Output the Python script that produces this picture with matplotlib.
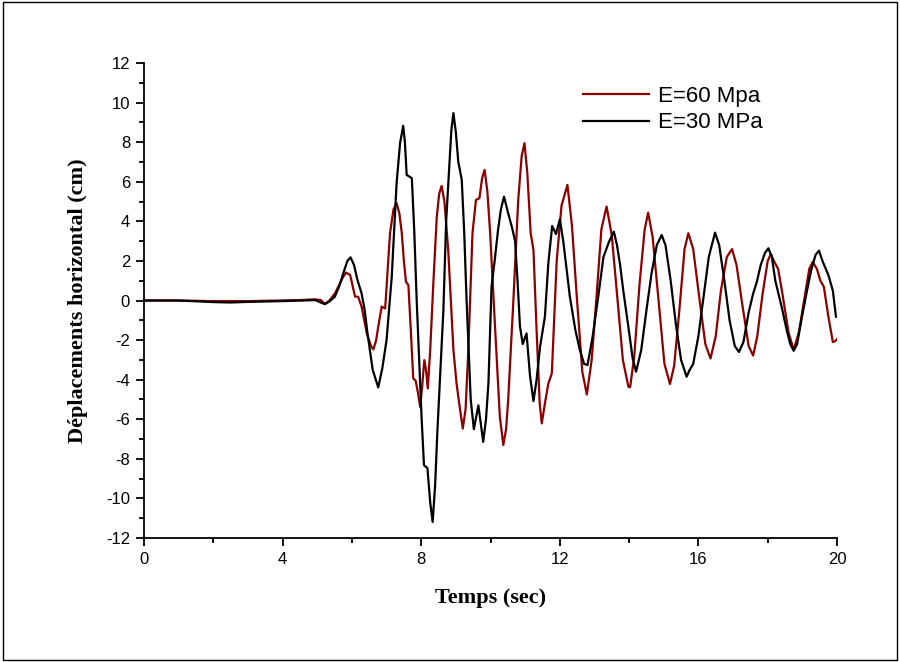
import matplotlib
matplotlib.use("Agg")
import matplotlib.pyplot as plt
from matplotlib.patches import Rectangle
from matplotlib.ticker import MultipleLocator

plt.rcParams["axes.unicode_minus"] = False

# E = 60 MPa (red)
t_60 = [0, 1.0, 2.0, 3.0, 4.0, 4.5, 4.9, 5.1, 5.22, 5.35, 5.51, 5.65, 5.75, 5.83, 5.95,
        6.05, 6.09, 6.18, 6.28, 6.43, 6.55, 6.62, 6.7, 6.76, 6.86, 6.96, 7.03, 7.1, 7.2,
        7.29, 7.37, 7.44, 7.5, 7.56, 7.63, 7.7, 7.77, 7.84, 7.9, 7.97, 8.03, 8.09, 8.14,
        8.19, 8.26, 8.35, 8.45, 8.52, 8.59, 8.67, 8.78, 8.93, 9.02, 9.12, 9.2, 9.28, 9.36,
        9.48, 9.58, 9.68, 9.76, 9.83, 9.91, 9.99, 10.13, 10.27, 10.37, 10.45, 10.51, 10.66,
        10.8, 10.9, 10.98, 11.06, 11.16, 11.24, 11.33, 11.42, 11.48, 11.57, 11.67, 11.77,
        11.91, 12.05, 12.22, 12.35, 12.49, 12.65, 12.78, 12.92, 13.06, 13.2, 13.35, 13.5,
        13.64, 13.82, 13.98, 14.03, 14.15, 14.3, 14.45, 14.55, 14.68, 14.85, 15.02, 15.18,
        15.3, 15.45, 15.6, 15.71, 15.85, 16.0, 16.2, 16.35, 16.5, 16.65, 16.82, 16.97, 17.1,
        17.25, 17.45, 17.58, 17.7, 17.85, 18.0, 18.09, 18.18, 18.3, 18.42, 18.6, 18.75,
        18.9, 19.05, 19.2, 19.3, 19.42, 19.52, 19.62, 19.75, 19.88, 19.95, 20.0]
d_60 = [0, 0.0, -0.03, -0.03, 0.0, 0.02, 0.06, 0.03, -0.18, 0.0, 0.36, 0.85, 1.2, 1.41, 1.29,
        0.5, 0.2, 0.19, -0.31, -1.66, -2.3, -2.47, -2.0, -1.32, -0.31, -0.4, 1.5, 3.4, 4.6,
        4.92, 4.4, 3.4, 2.0, 0.95, 0.78, -1.5, -3.94, -4.05, -4.6, -5.37, -4.3, -3.01, -3.5,
        -4.44, -2.5, 0.87, 4.24, 5.4, 5.79, 5.0, 2.55, -2.5, -4.19, -5.5, -6.47, -5.5, -2.5,
        3.4, 5.08, 5.17, 6.2, 6.6, 5.5, 3.4, -1.3, -5.88, -7.3, -6.5, -5.03, 0.0,
        5.08, 7.3, 7.95, 6.5, 3.4, 2.55, -1.5, -5.2, -6.21, -5.2, -4.19, -3.68,
        2.0, 4.8, 5.84, 3.8, 0.2, -3.6, -4.75, -3.0, 0.2, 3.6, 4.75, 3.3,
        0.53, -3.0, -4.36, -4.38, -2.8, 0.8, 3.6, 4.44, 3.2, 0.0, -3.2, -4.22,
        -3.3, -0.5, 2.6, 3.4, 2.6, 0.5, -2.2, -2.93, -1.8, 0.5, 2.2, 2.6, 1.8,
        0.0, -2.3, -2.78, -1.8, 0.3, 2.0, 2.35, 2.0, 1.6, 0.4, -1.6, -2.5,
        -1.6, 0.0, 1.6, 1.95, 1.6, 1.0, 0.7, -0.8, -2.1, -2.05, -1.95]

# E = 30 MPa (black)
t_30 = [0, 1.0, 2.0, 2.5, 3.0, 4.0, 4.6, 4.95, 5.1, 5.22, 5.35, 5.51, 5.63, 5.75, 5.87, 5.96,
        6.06, 6.16, 6.28, 6.37, 6.45, 6.6, 6.76, 6.88, 7.0, 7.15, 7.29, 7.39, 7.48, 7.53,
        7.58, 7.73, 7.8, 7.87, 7.94, 8.01, 8.08, 8.18, 8.26, 8.33, 8.4, 8.47, 8.54, 8.64,
        8.72, 8.8, 8.87, 8.93, 9.0, 9.07, 9.17, 9.24, 9.31, 9.43, 9.52, 9.65, 9.79, 9.87,
        9.94, 10.03, 10.12, 10.22, 10.3, 10.39, 10.51, 10.62, 10.71, 10.78, 10.85, 10.93,
        11.04, 11.14, 11.24, 11.33, 11.43, 11.57, 11.67, 11.78, 11.89, 12.0, 12.1, 12.29,
        12.45, 12.58, 12.7, 12.8, 12.95, 13.11, 13.26, 13.42, 13.56, 13.65, 13.74, 13.83,
        14.0, 14.1, 14.2, 14.35, 14.5, 14.65, 14.8, 14.94, 15.05, 15.2, 15.35, 15.5, 15.66,
        15.75, 15.85, 16.0, 16.15, 16.3, 16.48, 16.6, 16.75, 16.9, 17.05, 17.17, 17.3,
        17.45, 17.58, 17.68, 17.8, 17.92, 18.02, 18.12, 18.22, 18.4, 18.55, 18.65, 18.75,
        18.85, 18.97, 19.12, 19.25, 19.38, 19.48, 19.58, 19.75, 19.88, 19.97]
d_30 = [0, 0.0, -0.08, -0.1, -0.07, -0.03, 0.0, 0.02, -0.1, -0.18, -0.05, 0.2, 0.7, 1.37, 2.0, 2.18,
        1.8, 1.04, 0.36, -0.5, -1.66, -3.5, -4.39, -3.4, -2.0, 1.2, 5.93, 7.95, 8.83, 8.0,
        6.35, 6.18, 3.5, 0.0, -3.0, -5.88, -8.32, -8.47, -10.2, -11.19, -9.4, -6.5, -4.0, -0.5,
        4.0, 6.5, 8.6, 9.47, 8.5, 7.02, 6.1, 3.5, 0.0, -5.03, -6.5, -5.3, -7.14, -6.0,
        -4.19, 0.7, 2.0, 3.6, 4.6, 5.25, 4.41, 3.7, 3.0, 1.0, -1.3, -2.2,
        -1.66, -3.8, -5.08, -4.0, -2.34, -0.82, 1.9, 3.77, 3.36, 4.1, 3.0, 0.2,
        -1.5, -2.5, -3.2, -3.26, -1.8, 0.2, 2.2, 2.97, 3.48, 2.8, 1.8, 0.53,
        -1.6, -2.9, -3.6, -2.5, -0.5, 1.4, 2.8, 3.31, 2.8, 1.0, -1.2, -3.0, -3.85,
        -3.5, -3.2, -1.8, 0.2, 2.2, 3.43, 2.8, 1.0, -1.0, -2.3, -2.6, -2.1,
        -0.6, 0.35, 0.9, 1.8, 2.4, 2.64, 2.2, 1.0, -0.3, -1.5, -2.2, -2.54,
        -2.2, -1.0, 0.37, 1.5, 2.3, 2.52, 2.0, 1.29, 0.5, -0.82]

labels = ["E=60 Mpa", "E=30 MPa"]
x_label = "Temps (sec)"
y_label = "Déplacements horizontal (cm)"

fig = plt.figure(figsize=(9.0, 6.62), dpi=100)
ax = fig.add_axes([0.16, 0.1873, 0.77, 0.7175])

ax.plot(t_60, d_60, color="#8B0000", lw=1.6, label=labels[0], zorder=2)
ax.plot(t_30, d_30, color="black", lw=1.6, label=labels[1], zorder=3)

ax.set_xlim(0, 20)
ax.set_ylim(-12, 12)
ax.xaxis.set_major_locator(MultipleLocator(4))
ax.xaxis.set_minor_locator(MultipleLocator(2))
ax.yaxis.set_major_locator(MultipleLocator(2))
ax.yaxis.set_minor_locator(MultipleLocator(1))

for s in ["top", "right"]:
    ax.spines[s].set_visible(False)
for s in ["left", "bottom"]:
    ax.spines[s].set_linewidth(1.3)

ax.tick_params(which="major", direction="out", length=6, width=1.3, pad=4,
               labelsize=12)
ax.tick_params(which="minor", direction="out", length=3.5, width=1.3)
for lab in ax.get_xticklabels() + ax.get_yticklabels():
    lab.set_fontfamily("Liberation Sans")

ax.set_xlabel(x_label, fontfamily="Liberation Serif", fontweight="bold",
              fontsize=16, labelpad=15)
ax.set_ylabel(y_label, fontfamily="Liberation Serif", fontweight="bold",
              fontsize=16, labelpad=13)

leg = ax.legend(loc="upper left", bbox_to_anchor=(0.633, 0.952), frameon=False,
                borderpad=0, borderaxespad=0, handlelength=3.0, handletextpad=0.4,
                labelspacing=0.25, prop={"family": "Liberation Sans", "size": 16})
for line in leg.get_lines():
    line.set_linewidth(1.6)

fig.patches.append(Rectangle((0.003, 0.003), 0.994, 0.994, transform=fig.transFigure,
                             fill=False, edgecolor="black", lw=1.0))

fig.savefig("out.png", dpi=100)
